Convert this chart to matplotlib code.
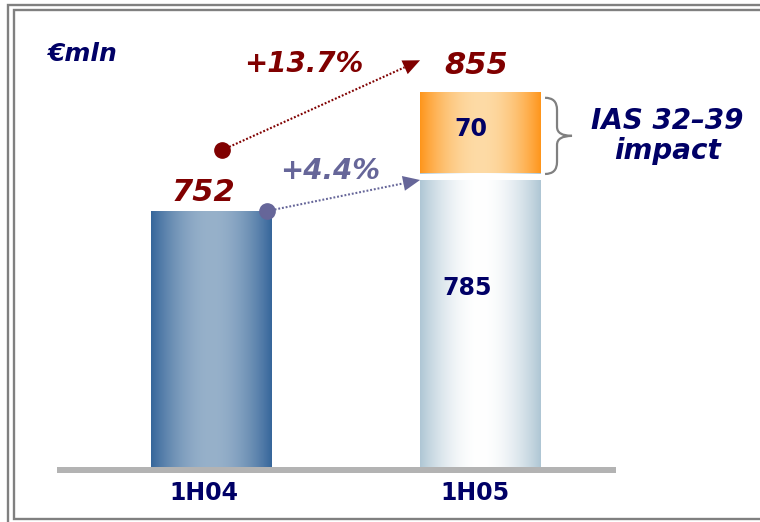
import numpy as np
import matplotlib
matplotlib.use('Agg')
import matplotlib.pyplot as plt
import matplotlib.colors as mcolors
import matplotlib.transforms as mtrans
from matplotlib.patches import Polygon, PathPatch
from matplotlib.path import Path

# ---------------- data ----------------
categories = ['1H04', '1H05']
base_values = [752, 785]          # bar values (1H05 without IAS impact)
ias_impact = [0, 70]              # IAS 32-39 impact segment
totals = [752, 855]
growth_total = '+13.7%'
growth_base = '+4.4%'
unit_label = '€mln'
impact_label = 'IAS 32–39\nimpact'

# ---------------- style ----------------
NAVY = '#000066'
DARKRED = '#800000'
SLATE = '#666699'
GRAY = '#808080'
BASE_GRAY = '#b3b3b3'

W, H, DPI = 760, 522, 100
fig = plt.figure(figsize=(W / DPI, H / DPI), dpi=DPI)
fig.patch.set_facecolor('white')

AX_L, AX_R, AX_BOT = 57, 616, 467
ax = fig.add_axes([AX_L / W, (H - AX_BOT) / H, (AX_R - AX_L) / W, AX_BOT / H])
ax.set_autoscale_on(False)
Y_MIN = 530
PX_PER_UNIT = 1.153
YLIM = (Y_MIN, Y_MIN + AX_BOT / PX_PER_UNIT)
XLIM = (-0.576, 1.504)
ax.set_xlim(*XLIM)
ax.set_ylim(*YLIM)
ax.axis('off')

x = np.arange(len(categories))
bw = 0.45


def gradient_fill(patch, edge, center, zorder, power=0.9):
    x0, y0 = patch.get_x(), patch.get_y()
    w, h = patch.get_width(), patch.get_height()
    t = np.linspace(0, 1, 300)
    f = np.sin(np.pi * t) ** power
    e = np.array(mcolors.to_rgb(edge))
    c = np.array(mcolors.to_rgb(center))
    rgb = e[None, :] * (1 - f[:, None]) + c[None, :] * f[:, None]
    img = ax.imshow(rgb[None, :, :], extent=(x0, x0 + w, y0, y0 + h),
                    aspect='auto', interpolation='bilinear', zorder=zorder)
    img.set_clip_path(patch)


# bars
base_heights = np.array(base_values) - Y_MIN
bars = ax.bar(x, base_heights, bottom=Y_MIN, width=bw, color='none',
              edgecolor='none', zorder=2)
gradient_fill(bars[0], '#35659a', '#97b1ca', 2)
gradient_fill(bars[1], '#aec6d4', '#ffffff', 2)

imp = ax.bar(x[1:], ias_impact[1:], bottom=base_values[1:], width=bw,
             color='none', edgecolor='none', zorder=3)
gradient_fill(imp[0], '#ff951a', '#fddba6', 3)

# white separation above the lower 1H05 segment
sep_tr = mtrans.offset_copy(ax.transData, fig=fig, x=0, y=-4, units='dots')
ax.plot([x[1] - bw / 2 - 0.01, x[1] + bw / 2 + 0.01], [base_values[1]] * 2,
        color='white', lw=6 / 1.389, solid_capstyle='butt', transform=sep_tr,
        zorder=2.5)

# value labels
lab_kw = dict(textcoords='offset pixels', ha='center', va='center',
              annotation_clip=False)
ax.annotate(str(totals[0]), xy=(x[0], totals[0]), xytext=(-8, 19),
            fontsize=22, fontweight='bold', fontstyle='italic', color=DARKRED, **lab_kw)
ax.annotate(str(totals[1]), xy=(x[1], totals[1]), xytext=(-4, 27),
            fontsize=22, fontweight='bold', fontstyle='italic', color=DARKRED, **lab_kw)
ax.annotate(str(ias_impact[1]), xy=(x[1], base_values[1] + ias_impact[1] / 2),
            xytext=(-9.5, 4), fontsize=17, fontweight='bold', color=NAVY, **lab_kw)
ax.annotate(str(base_values[1]), xy=(x[1], base_values[1]), xytext=(-13.5, -115),
            fontsize=17, fontweight='bold', color=NAVY, **lab_kw)
for xi, cat, dx in zip(x, categories, [-8, -5.5]):
    ax.annotate(cat, xy=(xi, Y_MIN), xytext=(dx, -26), fontsize=17,
                fontweight='bold', color=NAVY, **lab_kw)

# ---------------- overlay in pixel coordinates ----------------
ov = fig.add_axes([0, 0, 1, 1], zorder=5)
ov.set_xlim(0, W)
ov.set_ylim(H, 0)
ov.axis('off')
ov.patch.set_alpha(0)


def to_px(xd, yd):
    dx, dy = ax.transData.transform((xd, yd))
    return np.array([dx, H - dy])


# baseline
b_left = to_px(XLIM[0], Y_MIN)
b_right = to_px(XLIM[1], Y_MIN)
ov.plot([b_left[0], b_right[0]], [b_left[1] + 3, b_right[1] + 3],
        color=BASE_GRAY, lw=6 / 1.389, solid_capstyle='butt', zorder=1)

# frame (double line): outer runs off the bottom, inner is closed at bottom
ov.plot([W + 5, 8, 8], [5, 5, H + 5], color=GRAY, lw=1.7,
        solid_joinstyle='miter', zorder=1)
ov.plot([W + 5, 13.7, 13.7, W + 5], [10.3, 10.3, 519, 519], color=GRAY, lw=1.7,
        solid_joinstyle='miter', zorder=1)


def dotted_arrow(p0, p1, color):
    p0, p1 = np.asarray(p0, float), np.asarray(p1, float)
    d = p1 - p0
    u = d / np.hypot(*d)
    n = np.array([-u[1], u[0]])
    head_len, head_w = 17, 15
    base = p1 - u * head_len
    ov.plot([p0[0], base[0]], [p0[1], base[1]], color=color, lw=1.5,
            linestyle=(0, (0.9, 0.9)), zorder=3)
    ov.add_patch(Polygon([p1, base + n * head_w / 2, base - n * head_w / 2],
                         closed=True, facecolor=color, edgecolor='none', zorder=3))


# growth arrows anchored on bar corners
slate_dot = to_px(x[0] + bw / 2, totals[0]) + np.array([-5, 0])
slate_tip = to_px(x[1] - bw / 2, base_values[1]) + np.array([0, 7])
red_dot = slate_dot + np.array([-45, -61])
red_tip = to_px(x[1] - bw / 2, totals[1]) + np.array([0, -32])

dotted_arrow(slate_dot, slate_tip, SLATE)
dotted_arrow(red_dot, red_tip, DARKRED)
ov.plot(*slate_dot, 'o', color=SLATE, ms=11, zorder=4)
ov.plot(*red_dot, 'o', color=DARKRED, ms=11, zorder=4)

mid_r = (red_dot + red_tip) / 2
mid_s = (slate_dot + slate_tip) / 2
ov.text(mid_r[0] - 17, mid_r[1] - 41, growth_total, fontsize=20, fontweight='bold',
        fontstyle='italic', color=DARKRED, ha='center', va='center')
ov.text(mid_s[0] - 14, mid_s[1] - 25, growth_base, fontsize=20, fontweight='bold',
        fontstyle='italic', color=SLATE, ha='center', va='center')

# unit label
ov.text(82, 54, unit_label, fontsize=18, fontweight='bold', fontstyle='italic',
        color=NAVY, ha='center', va='center')

# curly brace next to the IAS segment
top_px = to_px(x[1] + bw / 2, totals[1])
bot_px = to_px(x[1] + bw / 2, base_values[1])
yt, yb = top_px[1] + 5.5, bot_px[1] + 1
x0 = top_px[0] + 4
xm = x0 + 12
xt = x0 + 27
ym = (yt + yb) / 2
r_end, r_tip = 12, 9
verts = [(x0, yt), (xm, yt), (xm, yt + r_end),
         (xm, ym - r_tip),
         (xm, ym), (xt, ym),
         (xm, ym), (xm, ym + r_tip),
         (xm, yb - r_end),
         (xm, yb), (x0, yb)]
codes = [Path.MOVETO, Path.CURVE3, Path.CURVE3,
         Path.LINETO,
         Path.CURVE3, Path.CURVE3,
         Path.CURVE3, Path.CURVE3,
         Path.LINETO,
         Path.CURVE3, Path.CURVE3]
ov.add_patch(PathPatch(Path(verts, codes), facecolor='none', edgecolor=GRAY,
                       lw=1.6, zorder=3))
ov.text(xt + 95, ym, impact_label, fontsize=20, fontweight='bold',
        fontstyle='italic', color=NAVY, ha='center', va='center',
        multialignment='center', linespacing=1.1)

fig.savefig('out.png', dpi=DPI, facecolor='white')
